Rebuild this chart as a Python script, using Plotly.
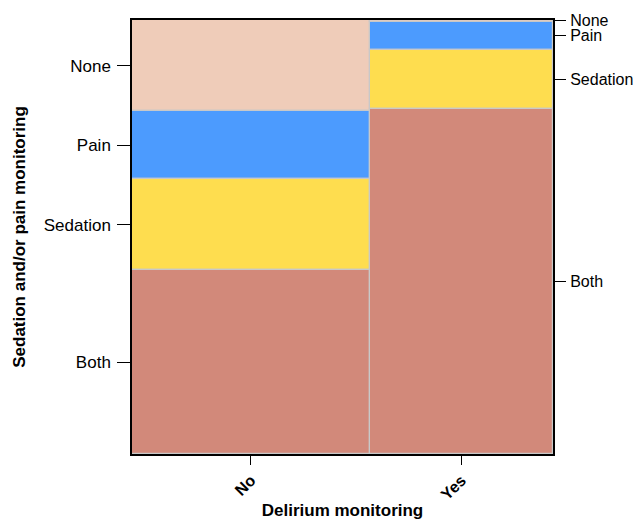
import plotly.graph_objects as go
import numpy as np

# Data (proportions read from the mosaic)
columns = ["No", "Yes"]
column_share = [0.565, 0.435]          # share of patients per delirium-monitoring group
levels = ["None", "Pain", "Sedation", "Both"]
share_no = [0.210, 0.157, 0.210, 0.423]
share_yes = [0.004, 0.064, 0.138, 0.794]
colors = ["#EFCCB9", "#4C9BFE", "#FEDD4F", "#D2897A"]

col_share = np.array(column_share)
col_left = np.concatenate([[0], np.cumsum(col_share)[:-1]])
col_center = col_left + col_share / 2

shares = np.array([share_no, share_yes])          # shape (cols, levels)
bases = np.concatenate([np.zeros((2, 1)), np.cumsum(shares, axis=1)[:, :-1]], axis=1)
centers = bases + shares / 2

fig = go.Figure()
for j, lev in enumerate(levels):
    fig.add_trace(go.Bar(
        x=col_center, y=shares[:, j], base=bases[:, j], width=col_share,
        marker=dict(color=colors[j], line=dict(color="#C8C8C8", width=1.2)),
        name=lev, showlegend=False, hoverinfo="skip",
    ))
# invisible trace to activate right axis
fig.add_trace(go.Scatter(x=[col_center[1]], y=[0.5], yaxis="y2", mode="markers",
                         marker=dict(opacity=0), showlegend=False, hoverinfo="skip"))

font_family = "Liberation Sans, Arial, Helvetica, sans-serif"
fig.update_layout(
    width=633, height=512,
    margin=dict(l=124, r=88, t=12, b=66),
    paper_bgcolor="white", plot_bgcolor="white",
    barmode="overlay", bargap=0,
    font=dict(family=font_family, size=16, color="black"),
    xaxis=dict(
        range=[0, 1], tickvals=list(col_center), ticktext=[f"<b>{c}</b>" for c in columns],
        tickangle=-45, ticks="outside", ticklen=9, tickcolor="black",
        showline=True, linecolor="black", linewidth=1.5, mirror=True,
        showgrid=False, zeroline=False, tickfont=dict(size=16), automargin=False,
        title=dict(text="<b>Delirium monitoring</b>", font=dict(size=17), standoff=4),
    ),
    yaxis=dict(
        range=[1, 0], tickvals=list(centers[0]), ticktext=levels,
        ticks="outside", ticklen=13, tickcolor="black", ticklabelstandoff=3,
        showline=True, linecolor="black", linewidth=1.5, mirror=True,
        showgrid=False, zeroline=False, tickfont=dict(size=17), automargin=False,
        title=dict(text="<b>Sedation and/or pain monitoring</b>", font=dict(size=17), standoff=14),
    ),
    yaxis2=dict(
        range=[1, 0], overlaying="y", side="right",
        tickvals=list(centers[1]), ticktext=levels,
        ticks="outside", ticklen=12, tickcolor="black", ticklabelstandoff=1, automargin=False,
        showgrid=False, zeroline=False, showline=False, tickfont=dict(size=16),
    ),
)
fig.write_html("out.html")
